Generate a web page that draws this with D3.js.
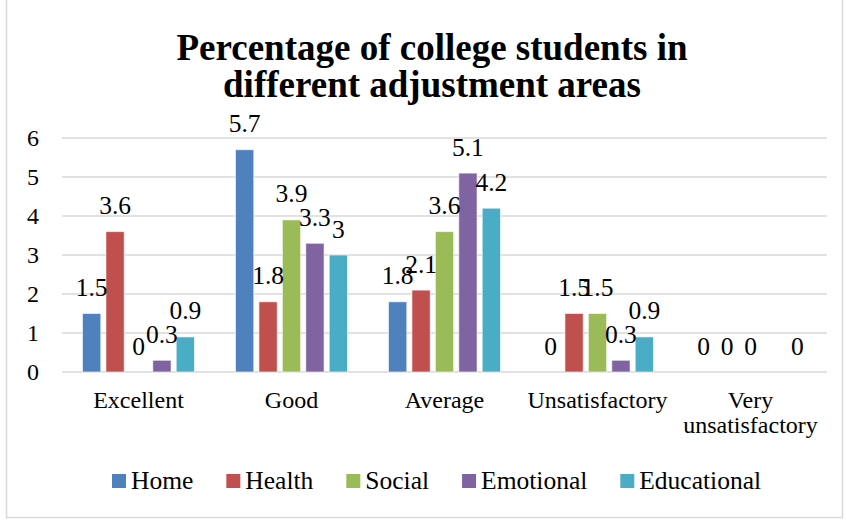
<!DOCTYPE html>
<html><head><meta charset="utf-8">
<script src="https://cdn.jsdelivr.net/npm/d3@7"></script>
<style>body{margin:0;background:#fff}svg{display:block}</style>
</head><body>
<svg id="c" width="846" height="520" style="font-family:'Liberation Serif',serif"></svg>
<script>
const categories = ["Excellent","Good","Average","Unsatisfactory","Very unsatisfactory"];
const seriesNames = ["Home","Health","Social","Emotional","Educational"];
const colors = ["#4F81BD","#C0504D","#9BBB59","#8064A2","#4BACC6"];
const home = [1.5, 5.7, 1.8, 0, 0];
const health = [3.6, 1.8, 2.1, 1.5, 0];
const social = [0, 3.9, 3.6, 1.5, 0];
const emotional = [0.3, 3.3, 5.1, 0.3, 0];
const educational = [0.9, 3, 4.2, 0.9, 0];
const yTicks = [0,1,2,3,4,5,6];
const hiddenLabels = [["Emotional","Very unsatisfactory"]];
const titleLines = ["Percentage of college students in","different adjustment areas"];

const FF = "'Liberation Serif','Times New Roman',serif";
const values = [home, health, social, emotional, educational];
const svg = d3.select("#c");
svg.append("rect").attr("x",6.5).attr("y",-2).attr("width",836).attr("height",519.5)
  .attr("fill","none").attr("stroke","#d9d9d9").attr("stroke-width",1.5);

const x0 = d3.scaleBand().domain(categories).range([62,827]).paddingInner(0.268).paddingOuter(0.134);
const x1 = d3.scaleBand().domain(seriesNames).range([0,x0.bandwidth()]).paddingInner(0.22);
const y = d3.scaleLinear().domain([0,6]).range([372,138]);

svg.append("g").selectAll("line").data(yTicks).join("line")
  .attr("x1",62).attr("x2",827).attr("y1",d=>y(d)).attr("y2",d=>y(d))
  .attr("stroke","#d9d9d9").attr("stroke-width",1.5);

const yAxis = d3.axisLeft(y).tickValues(yTicks).tickSize(0).tickPadding(0).tickFormat(d3.format("d"));
const yg = svg.append("g").attr("transform","translate(39,0)").call(yAxis);
yg.attr("font-family",null).attr("font-size",null);
yg.select(".domain").remove();
yg.selectAll("text").style("font-family",FF).style("font-size","24px").attr("fill","#000").attr("dy","0.33em");

const data = [];
categories.forEach((c,ci)=>seriesNames.forEach((s,si)=>data.push({c,s,si,v:values[si][ci]})));
svg.append("g").selectAll("rect").data(data.filter(d=>d.v>0)).join("rect")
  .attr("x",d=>x0(d.c)+x1(d.s)).attr("width",x1.bandwidth())
  .attr("y",d=>y(d.v)).attr("height",d=>y(0)-y(d.v))
  .attr("fill",d=>colors[d.si]).attr("stroke","rgba(255,255,255,0.6)").attr("stroke-width",1);

svg.append("g").selectAll("text").data(data.filter(d=>!hiddenLabels.some(h=>h[0]===d.s&&h[1]===d.c))).join("text")
  .attr("x",d=>x0(d.c)+x1(d.s)+x1.bandwidth()/2).attr("y",d=>y(d.v)-17.5)
  .attr("text-anchor","middle").style("font-family",FF).style("font-size","25.5px").attr("fill","#000").text(d=>d.v);

const xAxis = d3.axisBottom(x0).tickSize(0).tickPadding(0);
const xg = svg.append("g").call(xAxis);
xg.attr("font-family",null).attr("font-size",null);
xg.select(".domain").remove();
xg.selectAll("text").remove();
xg.selectAll(".tick").each(function(d){
  const words = d==="Very unsatisfactory" ? ["Very","unsatisfactory"] : [d];
  const t = d3.select(this).append("text").attr("text-anchor","middle")
    .style("font-family",FF).style("font-size","24px").attr("fill","#000");
  words.forEach((w,i)=>t.append("tspan").attr("x",0).attr("y",408+i*25).text(w));
});

svg.append("text").attr("x",432).attr("text-anchor","middle").style("font-family",FF).style("font-size","37px").attr("font-weight","bold")
  .selectAll("tspan").data(titleLines).join("tspan").attr("x",432).attr("y",(d,i)=>60+i*37).text(d=>d);

// legend laid out sequentially
let lx = 112;
seriesNames.forEach((s,i)=>{
  const g = svg.append("g").attr("transform",`translate(${lx},0)`);
  g.append("rect").attr("x",0).attr("y",474).attr("width",14).attr("height",14).attr("fill",colors[i]);
  const t = g.append("text").attr("x",19).attr("y",488.5).style("font-family",FF).style("font-size","25.5px").attr("fill","#000").text(s);
  lx += 19 + t.node().getComputedTextLength() + 33;
});
</script>
</body></html>
